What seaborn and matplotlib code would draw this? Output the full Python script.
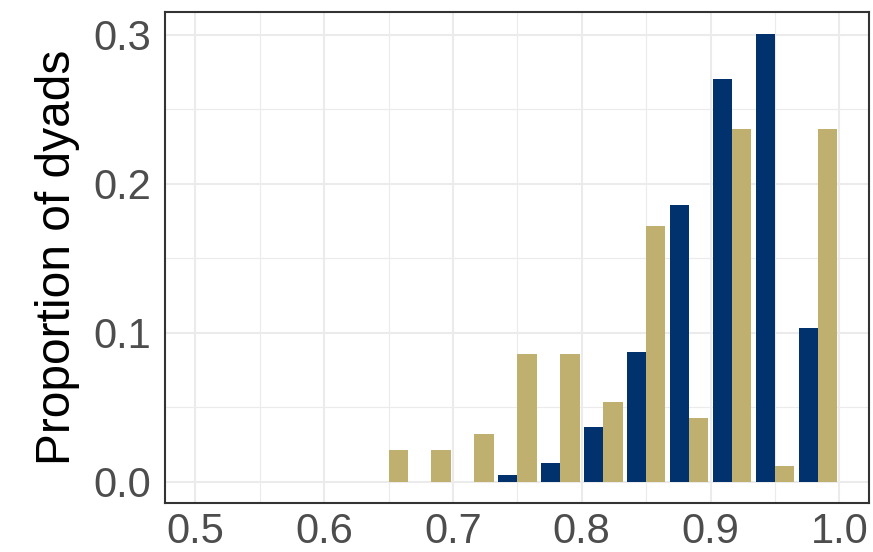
import pandas as pd
import matplotlib.pyplot as plt
import seaborn as sns
from matplotlib.ticker import MultipleLocator, FormatStrFormatter

# Bin centres (bin width 1/30) and proportion of dyads per group
bin_centers = [0.6500, 0.6833, 0.7167, 0.7500, 0.7833, 0.8167,
               0.8500, 0.8833, 0.9167, 0.9500, 0.9833]
group_a = [0.0, 0.0, 0.0, 0.0047, 0.0128, 0.0369,
           0.0872, 0.1860, 0.2705, 0.3007, 0.1034]
group_b = [0.0215, 0.0215, 0.0323, 0.0860, 0.0860, 0.0538,
           0.1720, 0.0430, 0.2366, 0.0108, 0.2366]
groups = ["Group A", "Group B"]
colors = ["#01326E", "#BFB070"]

df = pd.DataFrame({
    "similarity": bin_centers * 2,
    "proportion": group_a + group_b,
    "group": [groups[0]] * len(bin_centers) + [groups[1]] * len(bin_centers),
})

sns.set_theme(style="white")
plt.rcParams["font.family"] = ["Liberation Sans", "DejaVu Sans"]

fig = plt.figure(figsize=(8.73, 5.52), dpi=100)
ax = fig.add_axes([165 / 873, 1 - 503 / 552, 704 / 873, 491 / 552])

sns.barplot(data=df, x="similarity", y="proportion", hue="group",
            hue_order=groups, palette=colors, saturation=1, native_scale=True,
            width=0.9, errorbar=None, linewidth=0, legend=False, ax=ax,
            zorder=3)

ax.set_xlim(0.4765, 1.023)
ax.set_ylim(-0.0141, 0.3154)
ax.xaxis.set_major_locator(MultipleLocator(0.1))
ax.xaxis.set_minor_locator(MultipleLocator(0.05))
ax.yaxis.set_major_locator(MultipleLocator(0.1))
ax.yaxis.set_minor_locator(MultipleLocator(0.05))
ax.xaxis.set_major_formatter(FormatStrFormatter("%.1f"))
ax.yaxis.set_major_formatter(FormatStrFormatter("%.1f"))

ax.grid(which="major", color="#EBEBEB", linewidth=1.5, zorder=0)
ax.grid(which="minor", color="#EBEBEB", linewidth=0.8, zorder=0)
ax.set_axisbelow(True)
for s in ax.spines.values():
    s.set_color("#333333")
    s.set_linewidth(1.5)

ax.tick_params(which="major", length=5.8, width=1.4, color="#333333",
               labelsize=30, labelcolor="#4D4D4D")
ax.tick_params(which="minor", length=0)
ax.tick_params(axis="x", pad=1)
ax.tick_params(axis="y", pad=4)

ax.set_xlabel("")
ax.set_ylabel("Proportion of dyads", fontsize=34.5, color="black", labelpad=10)

fig.savefig("out.png", dpi=100)
